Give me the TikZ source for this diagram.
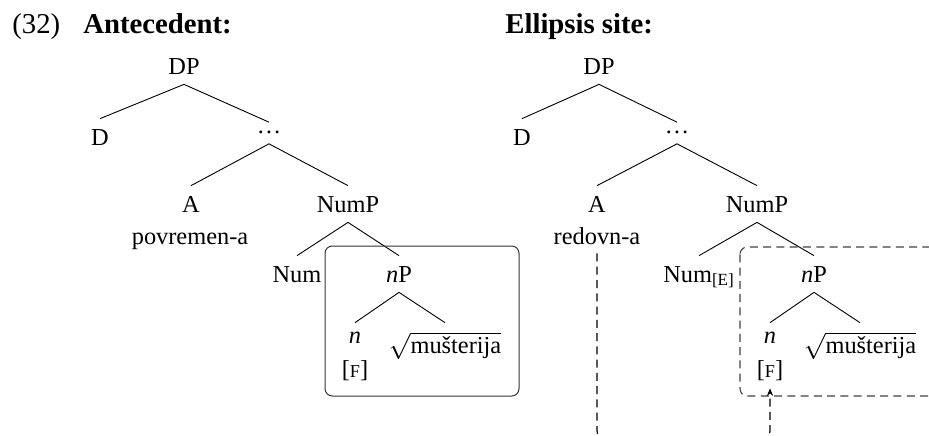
\documentclass[tikz,border=0pt]{standalone}
\usepackage{fontspec}
\setmainfont{Liberation Serif}
\usetikzlibrary{arrows.meta}
\newcommand{\smF}{{\fontsize{10}{11}\selectfont F}}
\newcommand{\srt}{$\sqrt{\mbox{mušterija}}$}
\begin{document}
\begin{tikzpicture}[x=0.55pt,y=-0.55pt,
  font=\fontsize{13.4}{16}\selectfont,
  lab/.style={inner sep=0pt,anchor=base,text height=14.3pt,text depth=5.5pt},
  leafn/.style={inner sep=0pt,anchor=base,text height=11pt,text depth=3pt},
  leafr/.style={inner sep=0pt,anchor=base,text height=16.5pt,text depth=3pt},
  plain/.style={inner sep=0pt,anchor=base},
  dotsn/.style={inner sep=0pt,text height=0pt,text depth=0pt,minimum height=11.5pt},
  title/.style={inner sep=0pt,anchor=base west,font=\fontsize{15.8}{18}\selectfont},
  edge/.style={line width=0.5pt},
  solidbox/.style={draw=black!80,line width=0.55pt,rounded corners=4pt},
  dashbox/.style={draw=black!75,line width=0.6pt,rounded corners=4pt,dash pattern=on 4.4pt off 2.9pt},
  arrowpath/.style={draw=black,line width=0.65pt,rounded corners=5pt,dash pattern=on 4.4pt off 2.9pt,-{Stealth[length=4.2pt,width=3.4pt]}}]
\clip (0,0) rectangle (929,435);
\useasboundingbox (0,0) rectangle (929,435);

% titles
\node[title] (ex) at (12,33) {(32)};
\node[title] (ant) at (83,33) {\textbf{Antecedent:}};
\node[title] (ell) at (505,33) {\textbf{Ellipsis site:}};

% ---------- left tree ----------
\node[lab] (DPl) at (184,74) {DP};
\node[lab] (Dl) at (100,145) {D};
\node[dotsn] (dotl) at (269,133) {…};
\node[lab] (Al) at (191,212) {A};
\node[plain] (advl) at (190,244) {povremen-a};
\node[lab] (NumPl) at (348,212) {NumP};
\node[lab] (Numl) at (297,282) {Num};
\node[lab] (nPl) at (399,282) {\textit{n}P};
\node[leafn] (nl) at (355,343) {\textit{n}};
\node[plain] (Fl) at (355,377) {[\smF]};
\node[leafr] (rootl) at (445,353) {\srt};

\draw[edge] (DPl.south) -- (Dl.north);
\draw[edge] (DPl.south) -- (dotl.north);
\draw[edge] (dotl.south) -- (Al.north);
\draw[edge] (dotl.south) -- (NumPl.north);
\draw[edge] (NumPl.south) -- (Numl.north);
\draw[edge] (NumPl.south) -- (nPl.north);
\draw[edge] (nPl.south) -- (nl.north);
\draw[edge] (nPl.south) -- (rootl.north);

\draw[solidbox] (325,246) rectangle (519,396);

% ---------- right tree ----------
\node[lab] (DPr) at (599,74) {DP};
\node[lab] (Dr) at (522,145) {D};
\node[dotsn] (dotr) at (677,133) {…};
\node[lab] (Ar) at (597,212) {A};
\node[plain,text depth=5pt] (advr) at (597,244) {redovn-a};
\node[lab] (NumPr) at (757,212) {NumP};
\node[lab] (Numr) at (699,282) {Num\textsubscript{[E]}};
\node[lab] (nPr) at (814,282) {\textit{n}P};
\node[leafn] (nr) at (770,343) {\textit{n}};
\node[plain,text depth=6pt] (Fr) at (770,377) {[\smF]};
\node[leafr] (rootr) at (860,353) {\srt};

\draw[edge] (DPr.south) -- (Dr.north);
\draw[edge] (DPr.south) -- (dotr.north);
\draw[edge] (dotr.south) -- (Ar.north);
\draw[edge] (dotr.south) -- (NumPr.north);
\draw[edge] (NumPr.south) -- (Numr.north);
\draw[edge] (NumPr.south) -- (nPr.north);
\draw[edge] (nPr.south) -- (nr.north);
\draw[edge] (nPr.south) -- (rootr.north);

\draw[dashbox] (740,247) rectangle (980,396);

\coordinate (bottom) at (690,440);
\draw[arrowpath] (advr.south) |- (bottom) -| (Fr.south);
\end{tikzpicture}
\end{document}
